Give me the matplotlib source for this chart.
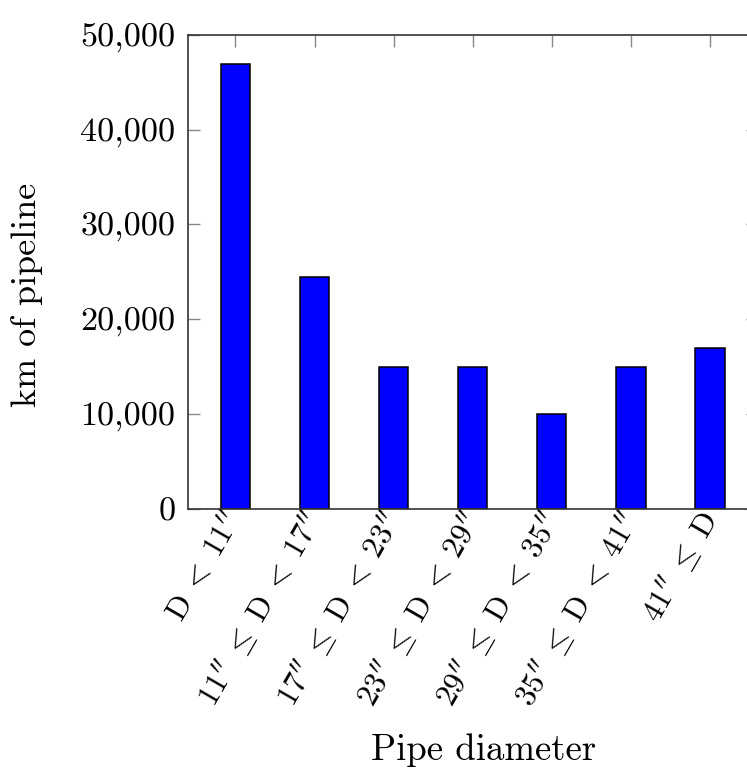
import matplotlib.pyplot as plt
import matplotlib as mpl
from matplotlib.ticker import FuncFormatter, MultipleLocator

mpl.rcParams.update({
    "font.family": "serif",
    "font.serif": ["cmr10", "DejaVu Serif"],
    "mathtext.fontset": "cm",
    "axes.formatter.use_mathtext": True,
    "font.size": 24,
})

# km of pipeline per diameter class
categories = [
    r"$\mathrm{D}\;<\;11''$",
    r"$11''\;\leq\;\mathrm{D}\;<\;17''$",
    r"$17''\;\leq\;\mathrm{D}\;<\;23''$",
    r"$23''\;\leq\;\mathrm{D}\;<\;29''$",
    r"$29''\;\leq\;\mathrm{D}\;<\;35''$",
    r"$35''\;\leq\;\mathrm{D}\;<\;41''$",
    r"$41''\;\leq\;\mathrm{D}$",
]
km_pipeline = [46900, 24400, 14900, 14900, 10000, 14900, 17000]

W, H = 747, 774
fig = plt.figure(figsize=(W / 100, H / 100), dpi=100)
# axes runs slightly past the right edge of the canvas
ax = fig.add_axes([188 / W, (H - 508.5) / H, 569.5 / W, 473.5 / H])

x = range(len(categories))
ax.bar(x, km_pipeline, width=0.37, color="#0000ff",
       edgecolor="black", linewidth=1.1, zorder=1)
ax.set_axisbelow(True)

ax.set_xlim(-0.6, 6.6)
ax.set_ylim(0, 50000)
ax.yaxis.set_major_locator(MultipleLocator(10000))
ax.yaxis.set_major_formatter(FuncFormatter(lambda v, p: f"{v:,.0f}"))

ax.set_xticks(list(x))
ax.set_xticklabels(categories, rotation=60, ha="right", va="center",
                   rotation_mode="anchor", fontsize=22.5)
ax.tick_params(axis="both", direction="in", length=8.5, width=1.0,
               color="#888888", top=True, right=True)
ax.tick_params(axis="x", pad=4)
ax.tick_params(axis="y", pad=9, labelsize=24.5)

for s in ax.spines.values():
    s.set_color("#333333")
    s.set_linewidth(1.2)

fig.text(27.5 / W, 1 - 295 / H, "km of pipeline", fontsize=26,
         rotation=90, ha="center", va="center")
fig.text(484 / W, 1 - 750 / H, "Pipe diameter", fontsize=26.5,
         ha="center", va="center")

fig.savefig("out.png", dpi=100)
